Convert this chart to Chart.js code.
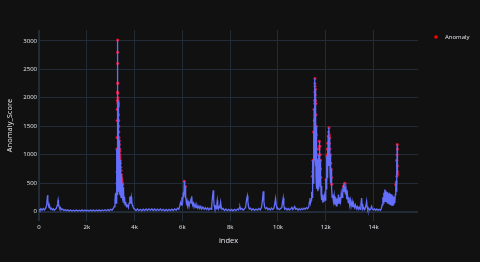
<!DOCTYPE html>
<html><head><meta charset="utf-8">
<script src="https://cdn.jsdelivr.net/npm/chart.js@4.4.1/dist/chart.umd.min.js"></script>
<style>html,body{margin:0;padding:0;background:#111111;}canvas{display:block;background:#111111;}</style>
</head><body>
<canvas id="c" width="480" height="262"></canvas>
<script>
// ---- Anomaly_Score series (index, value) ----
const indexValues = [
 0,40,80,130,180,230,280,320,345,360, 375,395,420,450,480,520,560,600,640,690,
 730,760,785,800,815,840,870,900,940,990, 1040,1090,1140,1200,1260,1320,1380,1440,1500,1560,
 1620,1680,1740,1800,1860,1920,1980,2040,2100,2160, 2220,2280,2340,2400,2460,2520,2580,2640,2700,2760,
 2820,2880,2940,3000,3060,3110,3150,
 3180,3200,3215,3230,3245,3258,3265,3272,3278,3284, 3290,3294,3298,3302,3306,3310,3314,3320,3326,3332,
 3338,3345,3352,3360,3368,3376,3384,3392,3400,3410, 3420,3432,3444,3456,3468,3480,3492,3505,3518,3530,
 3545,3560,3580,3600,3630,3660,3700,3740,3770,3800, 3815,3830,3845,3865,3880,3900,3930,3960,4000,
 4060,4120,4180,4240,4300,4360,4420,4480,4540,4600, 4660,4720,4780,4840,4900,4960,5020,5080,5140,5200,
 5260,5320,5380,5440,5500,5560,5620,5680,5740,5800, 5850,5890,
 5920,5950,5980,6010,6040,6060,6080,6095,6110,6120, 6135,6150,6170,6195,6220,6250,6280,6320,6350,6375,
 6390,6410,6430,6460,6490,6530,6570,6610,6650,6690, 6730,6770,6810,6860,6910,6960,7010,7060,7110,7160,
 7200,7230,7260,7290,7310,7330,7360,7390,7420,7445, 7460,7480,7510,7540,7570,7600,7625,7660,7700,
 7760,7820,7880,7940,8000,8060,8120,8180,8240,8300, 8350,8390,8410,8440,8490,8540,8600,8650,8690,8720,
 8740,8770,8800,8850,8900,8960,9020,9080,9140,9200, 9260,9310,9350,9385,9410,9440,9480,9530,9580,9630,
 9680,9730,9780,9830,9870,9900,9925,9960,10000,10060, 10110,10160,10195,10220,10245,10280,10330,10380,10430,10480,
 10540,10580,10620,10660,10700,10740,10790,10840,10890,10940, 10990,11040,11090,11140,11190,11240,11290,11320,11340,11360,
 11390,11410,11425,11435,11450,11465,11478,11490,11502,11514, 11526,11538,11548,11556,11565,11574,11583,11592,11601,11610,
 11620,11630,11645,11660,11675,11690,11705,11718,11728,11740, 11752,11764,11776,11790,11805,11820,11840,11860,11880,11900,
 11920,11945,11970,11990,12010,12025,12040,12055,12070,12085, 12100,12115,12134,12150,12165,12180,12195,12210,12225,12240,
 12250,12265,
 12290,12320,12350,12380,12410,12440,12470,12500,12530,12560, 12590,12620,12650,12680,12710,12740,12770,12800,12825,12850,
 12880,12910,12940,12970,13000,13030,13060,13100,13130,13160, 13200,13240,13280,13320,13360,13400,13440,13470,13500,13520,
 13550,13590,13630,13670,13710,13730,13760,13800,13840,13880, 13920,13950,13990,14040,14090,14140,14190,14240,14290,14330,
 14360,14390,14410,14430,14450,14470,14490,14510,14530,14550, 14570,14590,14610,14630,14650,14670,14690,14710,14730,14750,
 14770,14790,14810,14830,14850,14870,14890,14910,14930,14950, 14960,14970,14980,14990,15000
];
const scoreValues = [
 45,20,50,25,55,30,60,110,230,290, 200,120,70,90,45,60,30,50,25,45,
 60,110,170,205,150,90,55,70,35,45, 20,35,15,30,12,28,10,25,12,28,
 10,25,12,30,10,28,12,25,10,28, 12,26,10,28,12,30,12,28,14,32,
 15,35,18,40,25,55,90,
 200,310,330,150,420,1100,300,1600,500,2100, 3015,800,2250,600,1950,400,1900,700,1880,500,
 1500,350,1250,400,1100,300,1000,350,900,280, 780,250,650,300,560,250,500,220,430,200,
 380,160,260,120,170,90,110,70,150,260, 200,270,140,250,200,120,90,60,45,
 20,45,18,40,15,42,18,45,20,48, 22,50,20,45,18,42,20,45,18,40,
 15,38,15,40,18,42,20,48,25,60, 40,100,
 160,120,250,180,340,250,534,300,400,446, 230,280,150,190,110,160,90,180,230,150,
 270,170,120,150,80,130,70,110,60,100, 55,90,45,80,40,70,35,65,30,60,
 40,120,260,375,220,110,60,90,50,140, 194,100,50,90,70,164,80,40,55,
 20,45,18,40,15,38,15,40,18,45, 30,70,85,40,55,25,50,80,230,280,
 180,80,45,60,25,50,22,45,25,55, 30,70,200,357,180,80,50,70,35,55,
 30,60,35,60,150,229,120,50,60,35, 55,70,180,240,110,45,60,30,55,28,
 50,75,35,60,90,40,55,25,50,30, 55,35,60,40,70,50,90,180,240,150,
 200,350,250,621,400,900,500,1400,700,1800, 900,2100,2336,1000,2150,800,1900,600,1500,500,
 1100,400,915,357,700,400,1000,500,1238,600, 1150,450,900,600,300,450,200,300,158,250,
 170,280,200,400,563,400,974,600,1100,700, 1326,800,1473,900,1300,700,1000,500,750,400,
 417,250,
 300,180,280,120,250,100,230,130,300,150, 250,180,330,250,380,446,350,500,300,380,
 220,300,160,250,120,200,90,180,80,150, 70,120,50,90,40,80,40,120,240,130,
 40,70,35,80,181,90,30,55,25,50, 93,40,30,50,25,45,22,40,25,60,
 120,250,150,330,180,390,200,370,180,350, 160,340,150,320,140,330,130,310,120,300,
 110,280,100,260,120,230,150,300,475,520, 350,900,600,1180,650
];
// ---- Anomaly points ----
const anomalyIndex = [
 3258,3262,3265,3270,3272,3275,3280,3284,3290,3291, 3293,3295,3298,3300,3303,3306,3310,3314,3318,3322,
 3326,3330,3334,3338,3342,3348,3352,3358,3368,3376, 3384,3392,3400,3410,3420,3432,3444,3456,3468,3480,
 3492,3505,
 6080,6120,
 11435,11460,11465,11490,11514,11520,11530,11538,11540,11545, 11548,11552,11556,11565,11570,11583,11590,11601,11610,11620,
 11630,11645,11675,11705,11718,11728,11735,11752,11764,11776, 11785,11790,
 12010,12040,12055,12070,12085,12100,12120,12134,12145,12150, 12165,12175,12195,12210,12225,12235,12250,
 12740,12800,
 14930,14950,14970,14975,14985,14990,14993,14995,14997,15000
];
const anomalyScore = [
 1100,500,700,1300,1600,1800,1950,2100,3015,2800, 2600,2260,2250,2080,2000,1950,1920,1900,1890,1850,
 1880,1700,1600,1500,1400,1300,1250,1180,1100,1060, 1000,950,900,850,780,720,650,600,560,520,
 500,470,
 534,446,
 621,700,900,1400,1800,1600,1950,2100,1900,2250, 2336,2200,2050,2150,1950,1900,1700,1500,1350,1100,
 1000,915,700,1000,1100,1238,1150,1150,1000,900, 750,600,
 563,974,1000,1100,1200,1326,1400,1473,1350,1200, 1300,1100,1000,850,750,600,480,
 446,500,
 475,520,900,620,1000,1180,1100,800,700,650
];
// ---- Axes ----
const xTickValues = [0,2000,4000,6000,8000,10000,12000,14000];
const xTickLabels = ['0','2k','4k','6k','8k','10k','12k','14k'];
const yTickValues = [0,500,1000,1500,2000,2500,3000];
const yTickLabels = ['0','500','1000','1500','2000','2500','3000'];
const seriesNames = ['Anomaly_Score','Anomaly'];
const axisTitles = {x:'index', y:'Anomaly_Score'};

if (indexValues.length !== scoreValues.length) throw new Error('series length mismatch '+indexValues.length+' vs '+scoreValues.length);
if (anomalyIndex.length !== anomalyScore.length) throw new Error('anomaly length mismatch '+anomalyIndex.length+' vs '+anomalyScore.length);

const lineColor = '#636efa';
const anomalyColor = '#f0102a';
const gridColor = '#222c38';
const textColor = '#e4e7ec';
const fontFamily = '"Open Sans", "Noto Sans", sans-serif';

const legendPlugin = {
  id: 'plotlyLegend',
  afterDraw(chart) {
    const ctx = chart.ctx;
    ctx.save();
    ctx.fillStyle = '#ff0000';
    ctx.beginPath();
    ctx.arc(436, 37, 1.8, 0, Math.PI * 2);
    ctx.fill();
    ctx.font = '6px ' + fontFamily;
    ctx.fillStyle = textColor;
    ctx.textBaseline = 'middle';
    ctx.textAlign = 'left';
    ctx.fillText(chart.data.datasets[1].label, 445, 37);
    ctx.restore();
  }
};

new Chart(document.getElementById('c'), {
  type: 'line',
  data: {
    datasets: [
      {
        label: seriesNames[0],
        data: indexValues.map((x, i) => ({x: x, y: scoreValues[i]})),
        borderColor: lineColor,
        borderWidth: 1.3,
        pointRadius: 0,
        tension: 0,
        fill: false,
        order: 0
      },
      {
        label: seriesNames[1],
        data: anomalyIndex.map((x, i) => ({x: x, y: anomalyScore[i]})),
        showLine: false,
        pointRadius: 1.5,
        pointBackgroundColor: anomalyColor,
        pointBorderWidth: 0,
        borderColor: anomalyColor,
        order: 1
      }
    ]
  },
  options: {
    responsive: false,
    animation: false,
    devicePixelRatio: 1,
    layout: {padding: {top: 30, right: 62, left: 0, bottom: 0}},
    plugins: {legend: {display: false}, tooltip: {enabled: false}},
    scales: {
      x: {
        type: 'linear',
        min: 0,
        max: 15860,
        afterFit: s => { s.height = 41; },
        afterBuildTicks: s => { s.ticks = xTickValues.map(v => ({value: v})); },
        border: {display: false},
        grid: {color: gridColor, drawTicks: false, lineWidth: c => (c.tick && c.tick.value === 0 ? 2 : 1)},
        ticks: {
          color: textColor, padding: 3, maxRotation: 0, autoSkip: false,
          font: {family: fontFamily, size: 6},
          callback: (v, i) => xTickLabels[i]
        },
        title: {display: true, text: axisTitles.x, color: textColor,
          font: {family: fontFamily, size: 7.5}, padding: {top: 0, bottom: 17}}
      },
      y: {
        type: 'linear',
        min: -165,
        max: 3190,
        afterFit: s => { s.width = 39; },
        afterBuildTicks: s => { s.ticks = yTickValues.map(v => ({value: v})); },
        border: {display: false},
        grid: {color: gridColor, drawTicks: false, lineWidth: c => (c.tick && c.tick.value === 0 ? 2 : 1)},
        ticks: {
          color: textColor, padding: 2,
          font: {family: fontFamily, size: 6},
          callback: (v, i) => yTickLabels[i]
        },
        title: {display: true, text: axisTitles.y, color: textColor,
          font: {family: fontFamily, size: 7.5}, padding: {top: 5.5, bottom: 0}}
      }
    }
  },
  plugins: [legendPlugin]
});
</script>
</body></html>
